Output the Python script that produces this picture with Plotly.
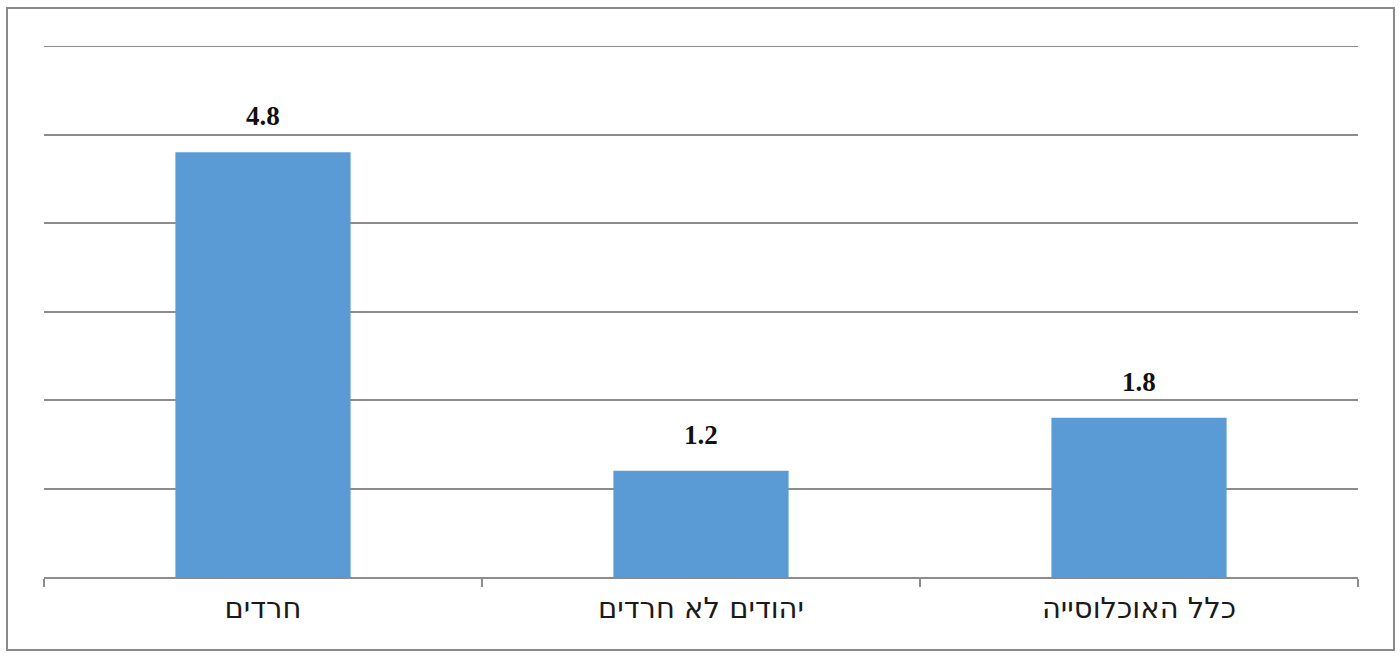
import plotly.graph_objects as go

categories = ["חרדים", "יהודים לא חרדים", "כלל האוכלוסייה"]
values = [4.8, 1.2, 1.8]
value_labels = ["4.8", "1.2", "1.8"]

L, R, T, B = 44, 42, 46, 79
W, H = 1400, 656
pw, ph = W - L - R, H - T - B
YMAX = 6.0

fig = go.Figure()
fig.add_trace(go.Bar(
    x=categories, y=values, marker=dict(color="#5B9BD5", line=dict(width=0)),
    width=0.4, hoverinfo="skip"
))

for c, v, t in zip(categories, values, value_labels):
    fig.add_annotation(x=c, y=v, text="<b>" + t + "</b>", showarrow=False, yanchor="bottom", yshift=19,
                       font=dict(family="Liberation Serif, Times New Roman, serif", size=27, color="#111111"))

def px_x(p):
    return (p - L) / pw

def px_y(p):
    return (H - B - p) / ph

fig.add_shape(type="rect", xref="paper", yref="paper",
              x0=px_x(7), x1=px_x(1394), y0=px_y(650), y1=px_y(8),
              line=dict(color="#8a8a8a", width=2), fillcolor="rgba(0,0,0,0)", layer="below")
# top gridline (value 6) drawn at the range edge
fig.add_shape(type="line", xref="paper", yref="y", x0=0, x1=1, y0=YMAX, y1=YMAX,
              line=dict(color="#8c8c8c", width=2), layer="below")

fig.update_layout(
    width=W, height=H,
    margin=dict(l=L, r=R, t=T, b=B, pad=0),
    plot_bgcolor="white", paper_bgcolor="white",
    showlegend=False, bargap=0.6,
    xaxis=dict(showline=True, linecolor="#8c8c8c", linewidth=2,
               ticks="outside", tickson="boundaries", ticklen=8, tickcolor="#8c8c8c", tickwidth=1.5,
               ticklabelstandoff=4,
               tickfont=dict(family="DejaVu Sans, Arial, sans-serif", size=29, color="#1a1a1a"),
               showgrid=False, fixedrange=True),
    yaxis=dict(range=[0, YMAX], dtick=1, showgrid=True, gridcolor="#8c8c8c", gridwidth=2,
               showticklabels=False, zeroline=False, showline=False, fixedrange=True),
)

fig.write_html("out.html", config={"displayModeBar": False},
               post_script="document.body.style.margin='0';document.body.style.overflow='hidden';")
